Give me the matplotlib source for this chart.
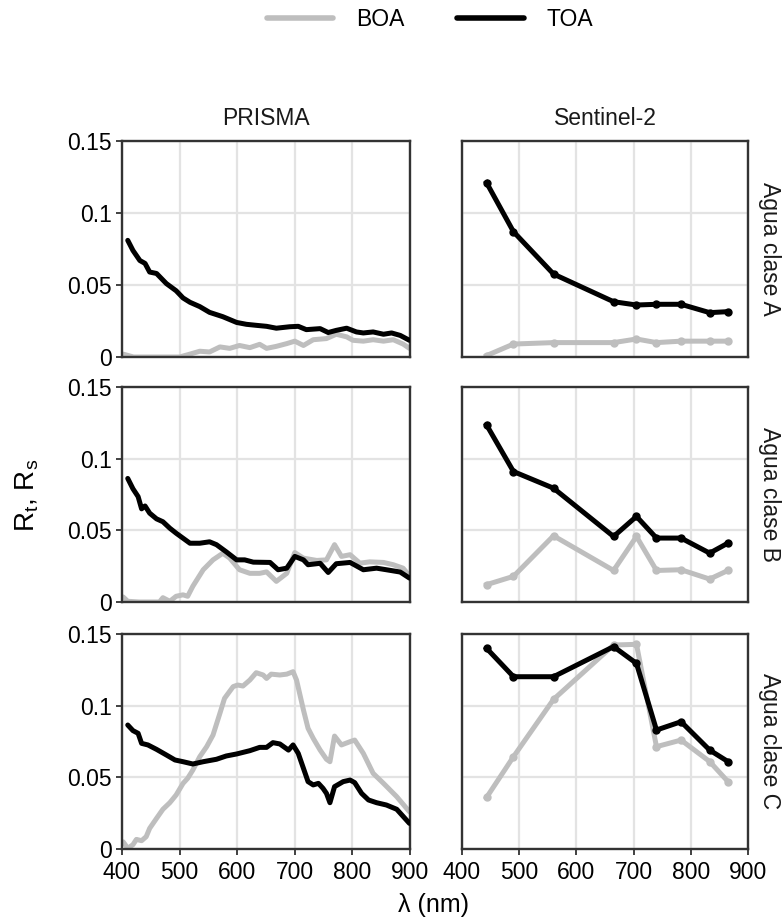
import matplotlib
matplotlib.use("Agg")
import matplotlib.pyplot as plt
from matplotlib.lines import Line2D

plt.rcParams['font.family'] = ['Liberation Sans', 'DejaVu Sans']
plt.rcParams['mathtext.fontset'] = 'custom'
plt.rcParams['mathtext.rm'] = 'Liberation Sans'
plt.rcParams['mathtext.it'] = 'Liberation Sans'

# ---------------- DATA ----------------
rows = ["Agua clase A", "Agua clase B", "Agua clase C"]
cols = ["PRISMA", "Sentinel-2"]
series = ["BOA", "TOA"]
x_ticks = [400, 500, 600, 700, 800, 900]
y_ticks = [0, 0.05, 0.1, 0.15]
y_tick_labels = ["0", "0.05", "0.1", "0.15"]

# PRISMA, class A
pA_toa_wl = [410, 419, 431, 440, 448, 460, 477, 494, 506, 518, 535, 552, 575, 599, 616, 633, 651, 668, 691, 706, 720, 744, 758, 772, 790, 807, 819, 836, 854, 868, 883, 899]
pA_toa = [0.081, 0.074, 0.067, 0.065, 0.059, 0.058, 0.051, 0.046, 0.041, 0.038, 0.035, 0.031, 0.028, 0.024, 0.0227, 0.022, 0.0213, 0.020, 0.021, 0.0213, 0.019, 0.0197, 0.017, 0.0185, 0.020, 0.0174, 0.0167, 0.0174, 0.0158, 0.0167, 0.015, 0.0116]
pA_boa_wl = [402, 420, 440, 460, 480, 500, 518, 535, 552, 570, 587, 604, 622, 639, 651, 668, 686, 700, 715, 732, 755, 772, 790, 801, 819, 836, 854, 871, 888, 899]
pA_boa = [0.002, 0.0, 0.0, 0.0, 0.0, 0.0, 0.002, 0.004, 0.0035, 0.007, 0.006, 0.008, 0.0065, 0.0088, 0.006, 0.0074, 0.0093, 0.011, 0.008, 0.012, 0.0128, 0.0158, 0.014, 0.0116, 0.011, 0.012, 0.011, 0.012, 0.009, 0.006]

# PRISMA, class B
pB_toa_wl = [410, 419, 428, 434, 440, 448, 460, 471, 483, 494, 506, 518, 535, 552, 564, 581, 599, 613, 628, 657, 671, 686, 700, 715, 723, 744, 758, 772, 796, 819, 842, 859, 883, 899]
pB_toa = [0.0862, 0.079, 0.0735, 0.065, 0.067, 0.062, 0.058, 0.056, 0.0515, 0.048, 0.0445, 0.041, 0.041, 0.042, 0.040, 0.035, 0.0294, 0.0294, 0.0278, 0.0276, 0.0225, 0.0236, 0.0318, 0.0294, 0.026, 0.027, 0.0206, 0.0267, 0.0276, 0.0225, 0.0236, 0.0225, 0.0209, 0.0167]
pB_boa_wl = [402, 410, 430, 450, 465, 471, 483, 494, 506, 514, 523, 541, 558, 575, 587, 604, 622, 639, 651, 668, 686, 700, 715, 738, 755, 769, 781, 796, 813, 830, 854, 871, 888, 899]
pB_boa = [0.0035, 0.0005, 0.0, 0.0, 0.0, 0.003, 0.0005, 0.004, 0.005, 0.004, 0.011, 0.0225, 0.0294, 0.034, 0.0306, 0.0225, 0.020, 0.020, 0.021, 0.0144, 0.020, 0.0345, 0.0306, 0.029, 0.0294, 0.040, 0.0318, 0.033, 0.0271, 0.028, 0.0276, 0.026, 0.0236, 0.0183]

# PRISMA, class C
pC_toa_wl = [410, 419, 428, 434, 445, 460, 477, 492, 506, 523, 541, 564, 581, 599, 622, 639, 651, 662, 674, 689, 697, 706, 715, 723, 732, 741, 749, 755, 761, 769, 784, 796, 804, 816, 828, 842, 859, 877, 899]
pC_toa = [0.0865, 0.0826, 0.0807, 0.0737, 0.0726, 0.0695, 0.0656, 0.0621, 0.0609, 0.0593, 0.0609, 0.0626, 0.0649, 0.0663, 0.0686, 0.0709, 0.0709, 0.0742, 0.0733, 0.069, 0.0726, 0.0667, 0.0563, 0.047, 0.0447, 0.0458, 0.0423, 0.0388, 0.0323, 0.0435, 0.047, 0.0481, 0.0463, 0.0388, 0.0342, 0.0323, 0.0307, 0.0277, 0.0179]
pC_boa_wl = [402, 410, 419, 425, 434, 442, 448, 460, 471, 483, 494, 506, 514, 523, 535, 547, 558, 570, 578, 593, 601, 610, 622, 633, 645, 651, 659, 674, 686, 697, 703, 715, 723, 732, 744, 755, 761, 769, 781, 796, 804, 819, 836, 854, 877, 899]
pC_boa = [0.005, 0.0005, 0.003, 0.0067, 0.0058, 0.0086, 0.0144, 0.0214, 0.0277, 0.0323, 0.0377, 0.0458, 0.0493, 0.0551, 0.0644, 0.0714, 0.0795, 0.0947, 0.1051, 0.1133, 0.1144, 0.1137, 0.1179, 0.123, 0.1214, 0.119, 0.122, 0.1214, 0.122, 0.1237, 0.1179, 0.097, 0.0842, 0.0772, 0.069, 0.0626, 0.0609, 0.0788, 0.0726, 0.0749, 0.076, 0.0667, 0.0528, 0.0458, 0.0365, 0.026]

# Sentinel-2 band centres and values
s2_wl = [443, 490, 560, 665, 705, 740, 783, 833, 865]
sA_toa = [0.121, 0.087, 0.0576, 0.0384, 0.0361, 0.0366, 0.0366, 0.0308, 0.0315]
sA_boa = [0.001, 0.009, 0.010, 0.010, 0.0125, 0.010, 0.011, 0.011, 0.011]
sB_toa = [0.1235, 0.091, 0.0794, 0.0457, 0.0597, 0.0446, 0.0446, 0.0341, 0.0411]
sB_boa = [0.0121, 0.0179, 0.0462, 0.022, 0.0457, 0.022, 0.0225, 0.016, 0.022]
sC_toa = [0.140, 0.1202, 0.1202, 0.1412, 0.1295, 0.083, 0.0888, 0.069, 0.061]
sC_boa = [0.036, 0.0644, 0.1044, 0.1423, 0.1428, 0.0714, 0.076, 0.061, 0.047]

prisma = [
    ((pA_boa_wl, pA_boa), (pA_toa_wl, pA_toa)),
    ((pB_boa_wl, pB_boa), (pB_toa_wl, pB_toa)),
    ((pC_boa_wl, pC_boa), (pC_toa_wl, pC_toa)),
]
sentinel = [(sA_boa, sA_toa), (sB_boa, sB_toa), (sC_boa, sC_toa)]

# ---------------- STYLE ----------------
BOA_C = "#bebebe"
TOA_C = "#000000"
W, H = 784, 921
fig = plt.figure(figsize=(W / 100, H / 100), dpi=100)

col_x = [(122, 410), (462, 748)]
row_y = [(141, 357), (387, 602), (634, 849)]
FS = 16.5


def add_ax(x0, x1, y0, y1):
    return fig.add_axes([x0 / W, 1 - y1 / H, (x1 - x0) / W, (y1 - y0) / H])


for r in range(3):
    for c in range(2):
        x0, x1 = col_x[c]
        y0, y1 = row_y[r]
        ax = add_ax(x0, x1, y0, y1)
        ax.set_xlim(400, 900)
        ax.set_ylim(0, 0.15)
        ax.set_xticks(x_ticks)
        ax.set_yticks(y_ticks)
        ax.grid(True, color="#e3e3e3", lw=1.6, zorder=0)
        ax.set_axisbelow(True)
        for sp in ax.spines.values():
            sp.set_color("#333333")
            sp.set_linewidth(1.7)
        ax.tick_params(colors="#333333", labelcolor="black", labelsize=FS, width=1.3, length=4.5, pad=3)
        if c == 0:
            ax.set_yticklabels(y_tick_labels)
        else:
            ax.tick_params(axis="y", left=False, labelleft=False)
        if r == 2:
            ax.set_xticklabels([str(v) for v in x_ticks])
            ax.tick_params(axis="x", pad=4)
        else:
            ax.tick_params(axis="x", bottom=False, labelbottom=False)

        if c == 0:
            (bw, bv), (tw, tv) = prisma[r]
            ax.plot(bw, bv, color=BOA_C, lw=3.6, solid_capstyle="round", solid_joinstyle="round", zorder=2)
            ax.plot(tw, tv, color=TOA_C, lw=3.6, solid_capstyle="round", solid_joinstyle="round", zorder=3)
        else:
            bv, tv = sentinel[r]
            ax.plot(s2_wl, bv, color=BOA_C, lw=3.6, marker="o", ms=5, solid_joinstyle="round", zorder=2)
            ax.plot(s2_wl, tv, color=TOA_C, lw=3.6, marker="o", ms=5, solid_joinstyle="round", zorder=3)

        if r == 0:
            fig.text((x0 + x1) / 2 / W, 1 - 118 / H, cols[c], ha="center", va="center",
                     fontsize=FS, color="#1a1a1a")
        if c == 1:
            fig.text(770 / W, 1 - (y0 + y1) / 2 / H, rows[r], rotation=270,
                     ha="center", va="center", fontsize=FS, color="#1a1a1a")

# axis labels
fig.text(27 / W, 1 - 495 / H, r"R$_\mathregular{t}$, R$_\mathregular{s}$", rotation=90,
         ha="center", va="center", fontsize=20)
fig.text(434 / W, 1 - 905 / H, "λ (nm)", ha="center", va="center", fontsize=18)

# legend
handles = [Line2D([], [], color=BOA_C, lw=4, solid_capstyle="round"),
           Line2D([], [], color=TOA_C, lw=4, solid_capstyle="round")]
fig.legend(handles, series, loc="center", bbox_to_anchor=(430 / W, 1 - 20 / H), ncol=2,
           frameon=False, fontsize=FS, handlelength=2.9, columnspacing=2.3, handletextpad=1.0)

fig.savefig("out.png", dpi=100)
